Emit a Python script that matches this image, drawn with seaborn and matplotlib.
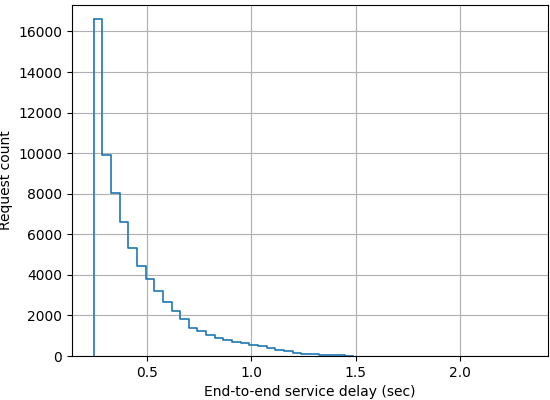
import numpy as np
import pandas as pd
import matplotlib
matplotlib.use('Agg')
import matplotlib.pyplot as plt
import seaborn as sns

# histogram range and bin count
delay_min = 0.2465
delay_max = 2.316
n_bins = 50

# request count per bin; the rest of the 50 bins are empty
request_counts = [16600, 9900, 8050, 6620, 5320, 4430, 3820, 3210, 2680, 2240,
                  1800, 1400, 1220, 1050, 900, 800, 700, 620, 550, 470,
                  390, 300, 230, 170, 120, 90, 60, 40, 25, 12]

x_label = 'End-to-end service delay (sec)'
y_label = 'Request count'


def main():
    edges = np.linspace(delay_min, delay_max, n_bins + 1)
    used = edges[:len(request_counts) + 1]
    df = pd.DataFrame({'delay': (used[:-1] + used[1:]) / 2,
                       'count': request_counts})

    fig, ax = plt.subplots(figsize=(5.5, 4), dpi=100)
    sns.histplot(data=df, x='delay', weights='count', bins=list(used),
                 element='step', fill=False, color='#1f77b4',
                 linewidth=1.2, ax=ax)
    # close the outline at the left edge like a matplotlib step histogram
    ax.vlines(edges[0], 0, request_counts[0], color='#1f77b4', linewidth=1.2)

    span = delay_max - delay_min
    ax.set_xlim(delay_min - 0.05 * span, delay_max + 0.05 * span)
    ax.set_xticks([0.5, 1.0, 1.5, 2.0])
    ax.grid(True, color='#b0b0b0', linewidth=0.8)
    ax.set_axisbelow(True)
    ax.set_xlabel(x_label)
    ax.set_ylabel(y_label)
    ax.set_ylim(0, max(request_counts) * 1.043)

    fig.subplots_adjust(left=0.131, right=0.996, top=0.988, bottom=0.11)
    plt.savefig('out.png', dpi=100)


if __name__ == '__main__':
    main()
